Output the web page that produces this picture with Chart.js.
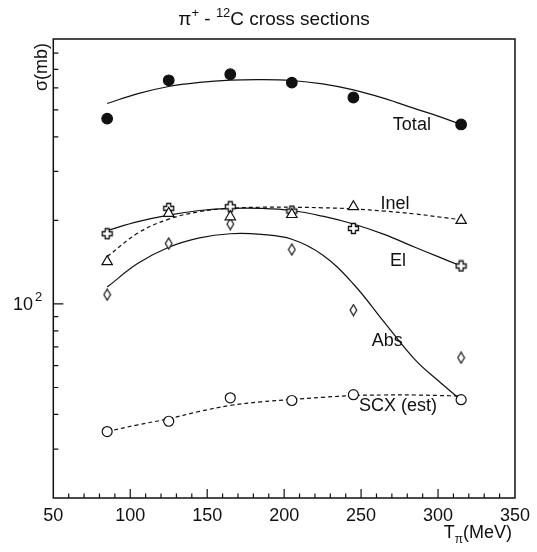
<!DOCTYPE html>
<html>
<head>
<meta charset="utf-8">
<script src="https://cdn.jsdelivr.net/npm/chart.js@4.4.1/dist/chart.umd.min.js"></script>
<style>
  body { margin: 0; background: #fff; }
  #c { display: block; }
</style>
</head>
<body>
<canvas id="c" width="537" height="552"></canvas>
<script>
// measured points (T_pi in MeV, sigma in mb)
const energies = [85, 125, 165, 205, 245, 315];
const totalPts = [465, 639, 672, 627, 554, 443];
const inelPts  = [142, 212, 206, 210, 224, 200];
const elPts    = [179, 221, 224, 216, 187, 137];
const absPts   = [108, 165, 194, 157, 95, 64];
const scxPts   = [34.7, 37.8, 45.9, 44.9, 47.1, 45.2];

// fitted curves
const fitE     = [85, 105, 125, 145, 165, 185, 205, 225, 245, 265, 285, 300, 315];
const totalFit = [527, 572, 607, 628, 640, 643, 638, 620, 590, 550, 505, 475, 443];
const elFit    = [184, 198, 209, 217, 221, 221, 217, 207, 194, 178, 160, 148, 137];
const inelFit  = [148, 180, 202, 215, 221, 223, 223, 222, 220, 216, 211, 206, 201];
const absFit   = [115, 140, 160, 173, 179, 178, 171, 150, 118, 86, 63, 53, 45];
const scxFit   = [34.7, 36.7, 38.6, 41.0, 43.1, 44.4, 45.3, 46.1, 46.8, 47.0, 47.0, 46.8, 46.6];

const xTicks = [50, 100, 150, 200, 250, 300, 350];

const FONT = '"Liberation Sans", Arial, Helvetica, sans-serif';
const INK = '#111';

function pairs(xs, ys) {
  return xs.map((x, i) => ({ x: x, y: ys[i] }));
}

// open plus marker
function plusMarker() {
  const c = document.createElement('canvas');
  c.width = 13; c.height = 13;
  const g = c.getContext('2d');
  const a = 2, r = 5, o = 6.5;
  const p = [[-a,-r],[a,-r],[a,-a],[r,-a],[r,a],[a,a],[a,r],[-a,r],[-a,a],[-r,a],[-r,-a],[-a,-a]];
  g.beginPath();
  p.forEach((q, i) => i ? g.lineTo(o + q[0], o + q[1]) : g.moveTo(o + q[0], o + q[1]));
  g.closePath();
  g.fillStyle = '#fff'; g.fill();
  g.lineWidth = 1.3; g.strokeStyle = INK; g.stroke();
  return c;
}

// narrow open diamond
function diamondMarker() {
  const c = document.createElement('canvas');
  c.width = 9; c.height = 13;
  const g = c.getContext('2d');
  g.beginPath();
  g.moveTo(4.5, 1); g.lineTo(7.8, 6.5); g.lineTo(4.5, 12); g.lineTo(1.2, 6.5);
  g.closePath();
  g.fillStyle = '#fff'; g.fill();
  g.lineWidth = 1.2; g.strokeStyle = INK; g.stroke();
  return c;
}

const seriesLabels = [
  { text: 'Total', x: 283, y: 441 },
  { text: 'Inel', x: 272, y: 229 },
  { text: 'El', x: 274, y: 143 },
  { text: 'Abs', x: 267, y: 73.6 },
  { text: 'SCX (est)', x: 274, y: 43 }
];

const frame = {
  id: 'frame',
  afterDraw(chart) {
    const { ctx, chartArea: a, scales: { x, y } } = chart;
    ctx.save();
    ctx.strokeStyle = INK;
    ctx.lineWidth = 1.5;
    ctx.strokeRect(a.left, a.top, a.right - a.left, a.bottom - a.top);

    // x ticks, pointing inward
    ctx.lineWidth = 1.2;
    ctx.beginPath();
    for (let v = 60; v < 350; v += 10) {
      const px = x.getPixelForValue(v);
      const len = v % 50 === 0 ? 9 : 4.5;
      ctx.moveTo(px, a.bottom);
      ctx.lineTo(px, a.bottom - len);
    }
    // y ticks on the left
    for (let d = 10; d <= 100; d *= 10) {
      for (let m = 1; m <= 9; m++) {
        const v = m * d;
        if (v <= 20 || v >= 900) continue;
        const py = y.getPixelForValue(v);
        const len = v === 100 ? 10 : 5;
        ctx.moveTo(a.left, py);
        ctx.lineTo(a.left + len, py);
      }
    }
    ctx.stroke();

    ctx.fillStyle = INK;
    ctx.textBaseline = 'middle';

    // 10^2 label
    const p100 = y.getPixelForValue(100);
    ctx.font = '18px ' + FONT;
    ctx.textAlign = 'right';
    ctx.fillText('10', 33, p100 + 1);
    ctx.font = '13px ' + FONT;
    ctx.textAlign = 'left';
    ctx.fillText('2', 35, p100 - 7);

    // series labels
    ctx.font = '18px ' + FONT;
    ctx.textAlign = 'center';
    seriesLabels.forEach(l => {
      ctx.fillText(l.text, x.getPixelForValue(l.x), y.getPixelForValue(l.y));
    });

    // title with superscripts
    const parts = [
      ['\u03c0', 19, 0], ['+', 13, -7], [' - ', 19, 0], ['12', 13, -7], ['C cross sections', 19, 0]
    ];
    let w = 0;
    parts.forEach(p => { ctx.font = p[1] + 'px ' + FONT; w += ctx.measureText(p[0]).width; });
    let cx = 274 - w / 2;
    ctx.textAlign = 'left';
    parts.forEach(p => {
      ctx.font = p[1] + 'px ' + FONT;
      ctx.fillText(p[0], cx, 20 + p[2]);
      cx += ctx.measureText(p[0]).width;
    });

    // x axis title T_pi(MeV), right aligned
    ctx.font = '18px ' + FONT;
    const tW = ctx.measureText('T').width;
    const rW = ctx.measureText('(MeV)').width;
    ctx.font = '12px ' + FONT;
    const sW = ctx.measureText('\u03c0').width;
    let sx = 512 - (tW + sW + rW);
    ctx.font = '18px ' + FONT;
    ctx.fillText('T', sx, 533);
    ctx.font = '12px ' + FONT;
    ctx.fillText('\u03c0', sx + tW, 540);
    ctx.font = '18px ' + FONT;
    ctx.fillText('(MeV)', sx + tW + sW, 533);

    // y axis title, rotated
    ctx.translate(42, 43);
    ctx.rotate(-Math.PI / 2);
    ctx.textAlign = 'right';
    ctx.font = '18px ' + FONT;
    ctx.fillText('\u03c3(mb)', 0, 0);
    ctx.restore();
  }
};

const pointBase = { showLine: false, borderColor: INK, pointBorderColor: INK, pointBorderWidth: 1.2 };
const lineBase = { showLine: true, pointRadius: 0, borderColor: INK, borderWidth: 1.2, tension: 0.4, fill: false };

new Chart(document.getElementById('c'), {
  type: 'scatter',
  data: {
    datasets: [
      Object.assign({ label: 'Total', data: pairs(energies, totalPts), pointStyle: 'circle',
        pointRadius: 5.3, pointBackgroundColor: INK }, pointBase),
      Object.assign({ label: 'Inel', data: pairs(energies, inelPts), pointStyle: 'triangle',
        pointRadius: 6, pointBackgroundColor: '#fff' }, pointBase),
      Object.assign({ label: 'El', data: pairs(energies, elPts), pointStyle: plusMarker(),
        pointRadius: 6 }, pointBase),
      Object.assign({ label: 'Abs', data: pairs(energies, absPts), pointStyle: diamondMarker(),
        pointRadius: 6 }, pointBase),
      Object.assign({ label: 'SCX (est)', data: pairs(energies, scxPts), pointStyle: 'circle',
        pointRadius: 5, pointBackgroundColor: '#fff' }, pointBase),
      Object.assign({ label: 'Total fit', data: pairs(fitE, totalFit) }, lineBase),
      Object.assign({ label: 'El fit', data: pairs(fitE, elFit) }, lineBase),
      Object.assign({ label: 'Inel fit', data: pairs(fitE, inelFit), borderDash: [4, 3] }, lineBase),
      Object.assign({ label: 'Abs fit', data: pairs(fitE, absFit) }, lineBase),
      Object.assign({ label: 'SCX fit', data: pairs(fitE, scxFit), borderDash: [4, 3] }, lineBase)
    ]
  },
  options: {
    responsive: false,
    animation: false,
    layout: { padding: { top: 39, right: 20.3, left: 0, bottom: 0 } },
    plugins: { legend: { display: false }, tooltip: { enabled: false }, title: { display: false } },
    scales: {
      x: {
        type: 'linear', min: 50, max: 350,
        grid: { display: false, drawTicks: false },
        border: { display: false },
        afterBuildTicks: s => { s.ticks = xTicks.map(v => ({ value: v })); },
        afterFit: s => { s.height = 54; },
        ticks: { padding: 7, color: INK, font: { family: FONT, size: 18 }, maxRotation: 0, autoSkip: false }
      },
      y: {
        type: 'logarithmic', min: 20, max: 900,
        grid: { display: false, drawTicks: false },
        border: { display: false },
        afterFit: s => { s.width = 53.3; },
        ticks: { display: false }
      }
    }
  },
  plugins: [frame]
});
</script>
</body>
</html>
